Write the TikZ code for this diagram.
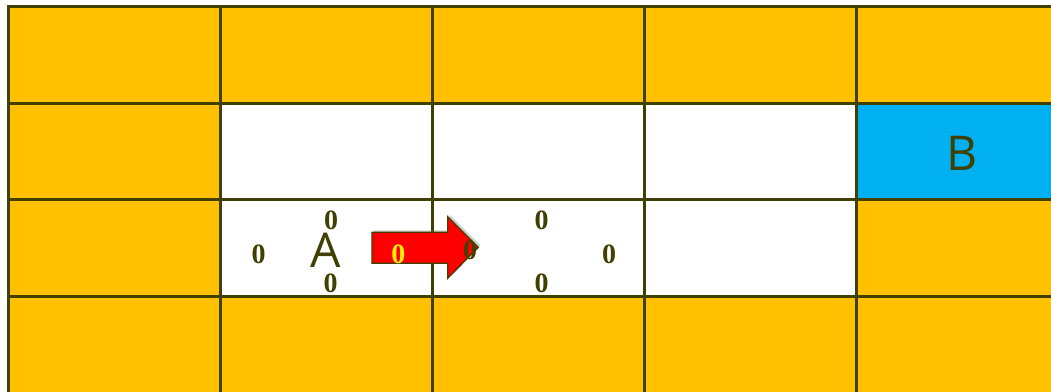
\documentclass[tikz,border=0pt]{standalone}
\usepackage{fontspec}
\setmainfont{Liberation Serif}
\newfontfamily\lettersf{Open Sans}
\usetikzlibrary{shadows}
\definecolor{cellorange}{HTML}{FFC000}
\definecolor{cellblue}{HTML}{00B0F0}
\definecolor{olive}{HTML}{404000}
\definecolor{arrowred}{HTML}{FF0000}
\tikzset{
  gridline/.style={draw=olive, line width=3pt},
  zero/.style={font=\fontsize{28}{30}\selectfont\bfseries, text=olive, inner sep=0pt, anchor=center},
  letter/.style={font=\lettersf\fontsize{48}{50}\selectfont, text=olive, inner sep=0pt, anchor=center},
  movearrow/.style={fill=arrowred, draw=olive, line width=1.3pt, line join=miter,
    drop shadow={shadow xshift=2pt, shadow yshift=2pt, opacity=0.35}}
}
\begin{document}
\begin{tikzpicture}[x=1pt,y=-1pt]
\useasboundingbox (0,0) rectangle (1051,391);
\fill[white] (0,0) rectangle (1051,391);
\begin{scope}
\clip (0,0) rectangle (1051,391);
% row 1
\fill[cellorange] (8.5,6) rectangle (1068.5,103);
% row 2
\fill[cellorange] (8.5,103) rectangle (220.5,199);
\fill[cellblue] (856.5,103) rectangle (1068.5,199);
% row 3
\fill[cellorange] (8.5,199) rectangle (220.5,296);
\fill[cellorange] (856.5,199) rectangle (1068.5,296);
% row 4
\fill[cellorange] (8.5,296) rectangle (1068.5,393);
% grid lines
\foreach \x in {8.5,220.5,432.5,644.5,856.5}
  \draw[gridline] (\x,6) -- (\x,395);
\foreach \y in {6,103,199,296}
  \draw[gridline] (7,\y) -- (1060,\y);
\end{scope}
% labels in cell A
\node[zero] (a0t) at (331,220) {0};
\node[zero] (a0l) at (258.5,254) {0};
\node[zero] (a0b) at (330.5,283.5) {0};
\node[letter] (A) at (326,250) {A};
% arrow
\draw[movearrow] (372,232.3) -- (447.7,232.3) -- (447.7,216.7) -- (478.3,247.3)
  -- (447.7,278.3) -- (447.7,263.3) -- (372,263.3) -- cycle;
\node[zero, text=yellow] (ay) at (398.3,254) {0};
\node[zero] (a0m) at (470,250) {0};
% next cell
\node[zero] (n0t) at (541.7,220) {0};
\node[zero] (n0r) at (609,254) {0};
\node[zero] (n0b) at (541.7,283.5) {0};
% B
\node[letter] (B) at (962,153) {B};
\end{tikzpicture}
\end{document}
